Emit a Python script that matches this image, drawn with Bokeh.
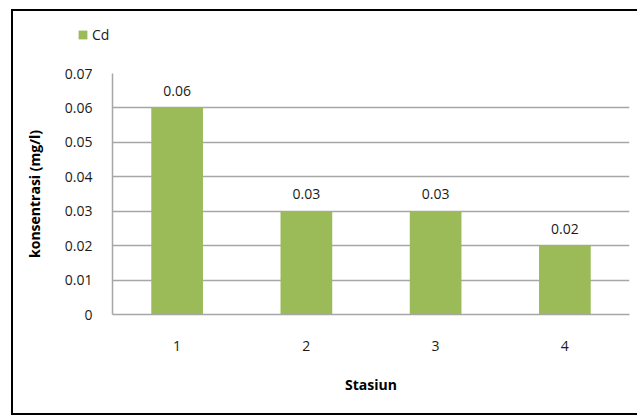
from bokeh.plotting import figure
from bokeh.layouts import column
from bokeh.models import (ColumnDataSource, NumeralTickFormatter, FixedTicker, Legend,
                          LegendItem, LabelSet, InlineStyleSheet)
from bokeh.core.properties import value
from bokeh.embed import file_html
from bokeh.resources import INLINE

stations = ["1", "2", "3", "4"]
cd_values = [0.06, 0.03, 0.03, 0.02]
cd_labels = ["0.06", "0.03", "0.03", "0.02"]
y_ticks = [0, 0.01, 0.02, 0.03, 0.04, 0.05, 0.06, 0.07]
series_name = "Cd"

FONT = "Open Sans"
GREEN = "#9BBB59"
GRID = "#a6a6a6"
TXT = "#1a1a1a"
TOP_H = 50

src = ColumnDataSource(dict(x=stations, y=cd_values, lab=cd_labels))

# --- legend strip (top) ---
lf = figure(width=637, height=TOP_H, x_range=(0, 1), y_range=(1, 2),
            output_backend="svg", toolbar_location=None, min_border=0)
lf.frame_align = False
lf.axis.visible = False
lf.grid.grid_line_color = None
lf.outline_line_color = None
lf.background_fill_color = None
lf.border_fill_color = None
proxy = lf.vbar(x="x", top="y", width=0.4, source=src, fill_color=GREEN, line_color=None)
legend = Legend(items=[LegendItem(label=series_name, renderers=[proxy])], location=(77, 6),
                glyph_width=11, glyph_height=11, label_text_font=FONT, label_text_font_size="14px",
                label_text_color=TXT, label_standoff=4, label_height=14,
                padding=0, margin=0, border_line_color=None, background_fill_alpha=0)
lf.add_layout(legend, "center")

# --- main chart ---
p = figure(width=637, height=416 - TOP_H, x_range=stations, y_range=(0, 0.07),
           output_backend="svg", toolbar_location=None,
           min_border_left=112, min_border_right=8, min_border_top=73 - TOP_H,
           min_border_bottom=102)
p.outline_line_color = None
p.background_fill_color = "white"
p.border_fill_color = None

p.vbar(x="x", top="y", width=0.4, source=src, fill_color=GREEN, line_color=None)

labels = LabelSet(x="x", y="y", text="lab", source=src, y_offset=17,
                  text_align="center", text_baseline="middle",
                  text_font=value(FONT), text_font_size="14px", text_color=TXT)
p.add_layout(labels)

p.yaxis.ticker = FixedTicker(ticks=y_ticks)
p.yaxis.formatter = NumeralTickFormatter(format="0.[00]")
p.yaxis.axis_label = "konsentrasi (mg/l)"
p.xaxis.axis_label = "Stasiun"
for ax in (p.xaxis, p.yaxis):
    ax.axis_label_text_font = FONT
    ax.axis_label_text_font_style = "bold"
    ax.axis_label_text_font_size = "14px"
    ax.axis_label_text_color = "black"
    ax.major_label_text_font = FONT
    ax.major_label_text_font_size = "14px"
    ax.major_label_text_color = TXT
    ax.major_tick_line_color = None
    ax.minor_tick_line_color = None
    ax.axis_line_color = GRID
    ax.axis_line_width = 1.5
p.yaxis.major_label_standoff = 14
p.yaxis.axis_label_standoff = 18
p.xaxis.major_label_standoff = 20
p.xaxis.axis_label_standoff = 21

p.xgrid.grid_line_color = None
p.ygrid.grid_line_color = GRID
p.ygrid.grid_line_width = 1.5

layout = column(lf, p, spacing=0)
layout.stylesheets = [InlineStyleSheet(css=(
    ":host { background:"
    " linear-gradient(#000,#000) 11px 9px / 700px 2px no-repeat,"
    " linear-gradient(#000,#000) 11px 9px / 2px 406px no-repeat,"
    " linear-gradient(#000,#000) 11px 413px / 700px 2px no-repeat,"
    " #ffffff; }"))]

open("out.html", "w").write(file_html(layout, INLINE))
